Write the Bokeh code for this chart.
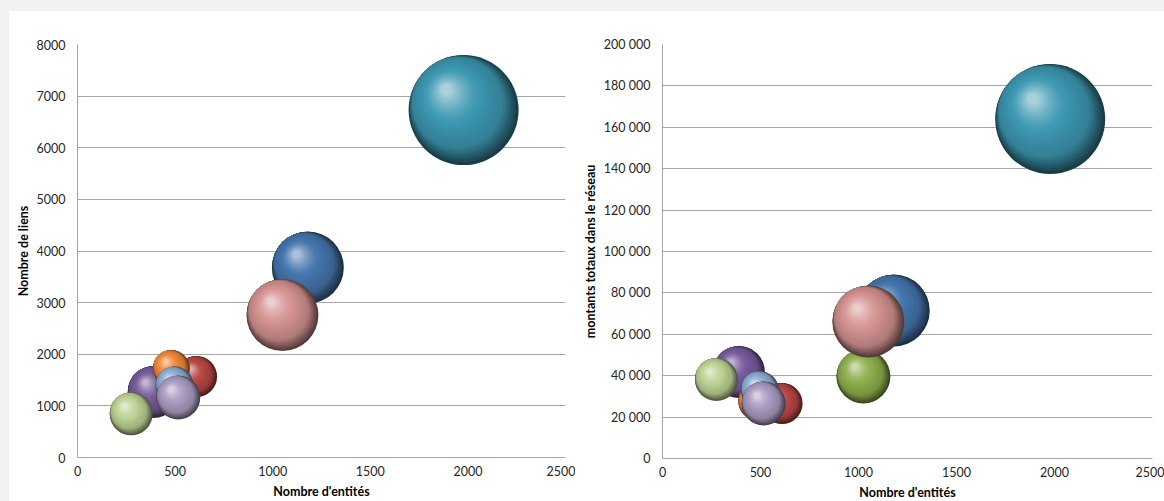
import numpy as np
from bokeh.plotting import figure
from bokeh.layouts import row
from bokeh.models import Range1d, FixedTicker
from bokeh.embed import file_html
from bokeh.resources import INLINE

# Series, listed in drawing order (later ones sit on top)
couleurs = ["#4676ad", "#b84845", "#8fb04e", "#785c9c", "#3d98b2",
            "#f08a3c", "#8eaed2", "#d49391", "#bdd294", "#ab9cc2"]
entites = [1180, 610, 1025, 390, 1978, 481, 497, 1050, 275, 516]
liens = [3680, 1569, 2790, 1269, 6730, 1724, 1395, 2760, 846, 1162]
montants = [71500, 26600, 39600, 41800, 164000, 27500, 33000, 66200, 38200, 26600]
taille = [42.8, 13.9, 24.1, 22.3, 100.0, 11.3, 11.9, 42.8, 15.3, 16.0]

x_ticks = [0, 500, 1000, 1500, 2000, 2500]
y1_ticks = [0, 1000, 2000, 3000, 4000, 5000, 6000, 7000, 8000]
y2_ticks = [0, 20000, 40000, 60000, 80000, 100000, 120000, 140000, 160000, 180000, 200000]
y2_labels = ["0", "20 000", "40 000", "60 000", "80 000", "100 000", "120 000",
             "140 000", "160 000", "180 000", "200 000"]

FONT = "Lato"
GRID = "#a6a6a6"
MAX_DIAM = 110  # screen diameter of the largest bubble


def hex_to_rgb(h):
    h = h.lstrip("#")
    return np.array([int(h[i:i + 2], 16) for i in (0, 2, 4)], dtype=float)


def to_hex(c):
    c = np.clip(np.round(c), 0, 255).astype(int)
    return "#%02x%02x%02x" % tuple(c)


def shade(base, t):
    dark = base * 0.40
    mid = base * 0.84
    light = base + (255 - base) * 0.55
    if t < 0.18:
        s = t / 0.18
        return dark + (mid - dark) * s
    if t < 0.55:
        s = (t - 0.18) / 0.37
        return mid + (base - mid) * s
    s = (t - 0.55) / 0.45
    return base + (light - base) * s ** 1.3


def sphere(p, x, y, diam, color, px_x, px_y, k=32):
    """Draw one shaded bubble as a stack of shrinking discs drifting to the highlight."""
    base = hex_to_rgb(color)
    r = diam / 2.0
    ts = np.linspace(0.0, 1.0, k)
    shrink = 0.9
    t1 = 0.28
    # outer discs stay tangent on the lit side, inner ones drift more slowly
    m = np.where(ts <= t1, shrink * ts, shrink * t1 + 0.32 * (ts - t1)) * r
    ux, uy = -0.65, 0.76
    norm = np.hypot(ux, uy)
    xs = x + m * (ux / norm) / px_x
    ys = y + m * (uy / norm) / px_y
    sizes = 2 * r * (1 - shrink * ts)
    cols = [to_hex(shade(base, t)) for t in ts]
    p.scatter(x=xs, y=ys, size=sizes, fill_color=cols, line_color=None,
              marker="circle")


def make_fig(yvals, y_end, y_ticks, frame_w, frame_h, b_left, b_right, b_top,
             y_title, y_overrides=None, margin=(11, 0, 0, 0)):
    p = figure(frame_width=frame_w, frame_height=frame_h,
               x_range=Range1d(0, 2500), y_range=Range1d(0, y_end),
               output_backend="svg", toolbar_location=None,
               min_border_left=b_left, min_border_right=b_right,
               min_border_top=b_top, min_border_bottom=44,
               background_fill_color="white", border_fill_color="white",
               outline_line_color=None, margin=margin)
    p.xgrid.visible = False
    p.ygrid.grid_line_color = GRID
    p.ygrid.grid_line_width = 1
    p.ygrid.ticker = FixedTicker(ticks=y_ticks)

    p.xaxis.ticker = FixedTicker(ticks=x_ticks)
    p.yaxis.ticker = FixedTicker(ticks=y_ticks)
    if y_overrides:
        p.yaxis.major_label_overrides = y_overrides
    for ax in (p.xaxis[0], p.yaxis[0]):
        ax.axis_line_color = GRID
        ax.major_tick_line_color = None
        ax.minor_tick_line_color = None
        ax.major_tick_out = 0
        ax.major_tick_in = 0
        ax.minor_tick_out = 0
        ax.minor_tick_in = 0
        ax.major_label_text_font = FONT
        ax.major_label_text_font_size = "12.5px"
        ax.major_label_text_color = "#262626"
        ax.axis_label_text_font = FONT
        ax.axis_label_text_font_size = "12.5px"
        ax.axis_label_text_font_style = "bold"
        ax.axis_label_text_color = "#000000"
    p.xaxis.major_label_standoff = 8
    p.xaxis.axis_label_standoff = 5
    p.yaxis.major_label_standoff = 12
    p.yaxis.axis_label_standoff = 3
    p.xaxis.axis_label = "Nombre d'entités"
    p.yaxis.axis_label = y_title

    px_x = frame_w / 2500.0
    px_y = frame_h / float(y_end)
    for xv, yv, s, c in zip(entites, yvals, taille, couleurs):
        sphere(p, xv, yv, MAX_DIAM * np.sqrt(s / 100.0), c, px_x, px_y)
    return p


p1 = make_fig(liens, 8000, y1_ticks, 488, 413, 68, 10, 33, "Nombre de liens",
              margin=(11, 0, 0, 9))
p2 = make_fig(montants, 200000, y2_ticks, 490, 414, 87, 12, 32,
              "montants totaux dans le réseau",
              y_overrides={t: l for t, l in zip(y2_ticks, y2_labels)},
              margin=(11, 0, 0, 0))

# white sheet with a light grey band along the top and left edges
layout = row(p1, p2, styles={"background-color": "white",
                             "box-shadow": "inset 9px 11px 0 0 #f2f2f2"})

open("out.html", "w").write(file_html(layout, INLINE))
